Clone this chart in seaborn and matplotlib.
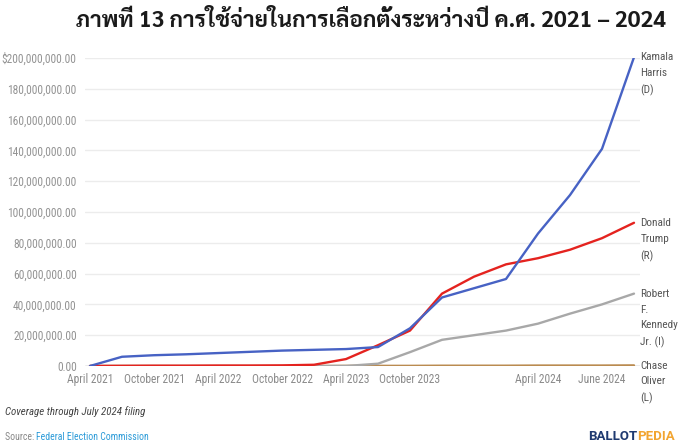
import matplotlib
matplotlib.use("Agg")
import matplotlib.pyplot as plt
import seaborn as sns
import pandas as pd

# filing periods (quarterly, then monthly in 2024)
periods = ["April 2021", "July 2021", "October 2021", "January 2022", "April 2022",
           "July 2022", "October 2022", "January 2023", "April 2023", "July 2023",
           "October 2023", "January 2024", "February 2024", "March 2024",
           "April 2024", "May 2024", "June 2024", "July 2024"]
shown_ticks = ["April 2021", "October 2021", "April 2022", "October 2022",
               "April 2023", "October 2023", "April 2024", "June 2024"]

# spending in millions of dollars
harris = [0, 6.0, 7.0, 7.6, 8.4, 9.2, 10.0, 10.5, 11.0, 12.3, 24.5, 44.5,
          50.5, 56.5, 86.0, 111.0, 141.0, 200.5]
trump = [0, 0.1, 0.2, 0.2, 0.3, 0.3, 0.4, 0.8, 4.5, 13.5, 23.0, 47.0,
         58.0, 66.0, 70.0, 75.5, 83.0, 93.0]
kennedy = [0, 0, 0, 0, 0, 0, 0, 0, 0, 1.5, 9.0, 17.0,
           20.0, 23.0, 27.5, 34.0, 40.0, 47.0]
oliver = [0, 0, 0, 0, 0, 0, 0, 0, 0.1, 0.1, 0.1, 0.2,
          0.2, 0.2, 0.3, 0.3, 0.3, 0.4]

candidates = ["Kamala\nHarris\n(D)", "Donald\nTrump\n(R)",
              "Robert\nF.\nKennedy\nJr. (I)", "Chase\nOliver\n(L)"]
series = [harris, trump, kennedy, oliver]
colors = ["#4762C4", "#E4231F", "#A8A8A8", "#BA8B50"]

rows = []
for name, vals in zip(candidates, series):
    for i, v in enumerate(vals):
        rows.append({"idx": i, "period": periods[i], "amount": v * 1e6, "candidate": name})
df = pd.DataFrame(rows)

sns.set_style("white")
tick_font = ["Roboto Condensed", "Roboto", "DejaVu Sans"]
plt.rcParams["font.family"] = tick_font

fig = plt.figure(figsize=(6.79, 4.44), dpi=100)
ax = fig.add_axes([85 / 679, 1 - 366 / 444, 555 / 679, 308 / 444])

# light grid first
yticks = [i * 20e6 for i in range(11)]
for y in yticks:
    ax.axhline(y, color="#ECECEC" if y > 0 else "#9A9A9A", lw=1, zorder=0)

sns.lineplot(data=df, x="idx", y="amount", hue="candidate", hue_order=candidates[::-1],
             palette=dict(zip(candidates, colors)), linewidth=1.7, legend=False, ax=ax)

ax.set_xlim(-5 / 32, 17 + 6 / 32)
ax.set_ylim(0, 200e6)
for s in ax.spines.values():
    s.set_visible(False)
ax.grid(False)

ax.set_yticks(yticks)
ylabels = ["{:,.2f}".format(y) for y in yticks]
ylabels[-1] = "$" + ylabels[-1]
ax.set_yticklabels(ylabels, color="#949494", fontsize=8.3)
ax.tick_params(axis="y", length=0, pad=6)

ax.set_xticks([periods.index(p) for p in shown_ticks])
ax.set_xticklabels(shown_ticks, color="#8A8A8A", fontsize=8.3)
ax.tick_params(axis="x", length=0, pad=5)
ax.set_xlabel("")
ax.set_ylabel("")

# end labels
for name, vals in zip(candidates, series):
    ax.annotate(name, xy=(17, vals[-1] * 1e6), xytext=(4.5, 3.5), textcoords="offset points",
                va="top", ha="left", fontsize=8.1, color="#555555", linespacing=1.72,
                annotation_clip=False)

fig.text(0.547, 0.953, "ภาพที่ 13 การใช้จ่ายในการเลือกตั้งระหว่างปี ค.ศ. 2021 – 2024",
         ha="center", va="center", fontsize=16.3, fontweight="bold", color="#1A1A1A",
         family=["Sarabun", "Noto Sans Thai Looped", "DejaVu Sans"])

fig.text(5 / 679, 1 - 412 / 444, "Coverage through July 2024 filing", ha="left", va="center",
         fontsize=7.8, style="italic", color="#444444")
t = fig.text(5 / 679, 1 - 437 / 444, "Source: ", ha="left", va="center",
             fontsize=7, color="#888888")
fig.canvas.draw()
bb = t.get_window_extent()
fig.text(bb.x1 / 679, 1 - 437 / 444, "Federal Election Commission", ha="left", va="center",
         fontsize=7, color="#2A9AD8")

b = fig.text(588 / 679, 1 - 436 / 444, "BALLOT", ha="left", va="center",
             fontsize=9.5, fontweight="bold", color="#1F3A70", family=["Roboto", "DejaVu Sans"])
fig.canvas.draw()
bb = b.get_window_extent()
fig.text(bb.x1 / 679, 1 - 436 / 444, "PEDIA", ha="left", va="center",
         fontsize=9.5, fontweight="bold", color="#F2A531", family=["Roboto", "DejaVu Sans"])

fig.savefig("out.png", dpi=100)
